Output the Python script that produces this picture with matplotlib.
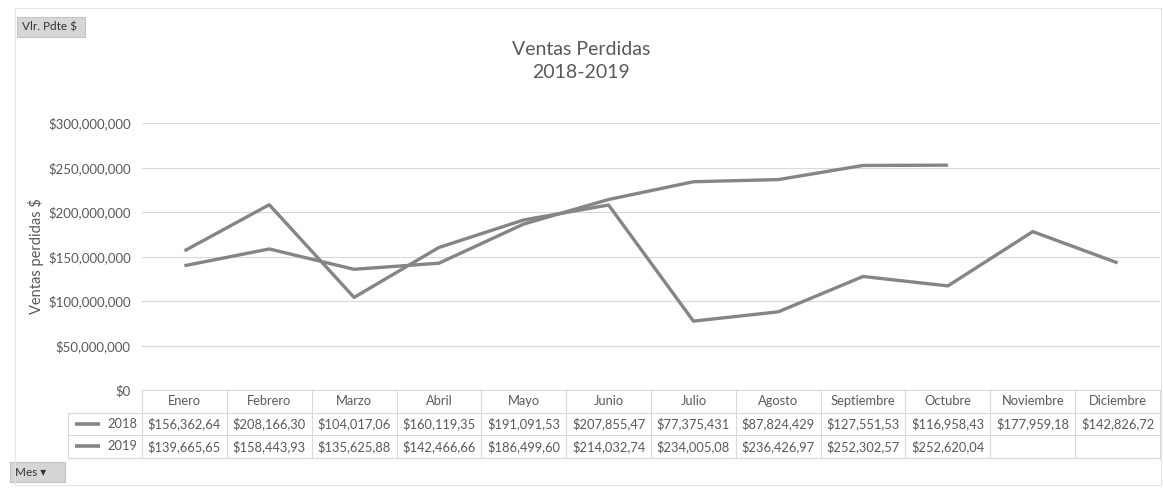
import matplotlib.pyplot as plt
from matplotlib.patches import Rectangle
from matplotlib.ticker import FuncFormatter
import matplotlib.transforms as mtransforms

plt.rcParams['font.family'] = ['Lato', 'DejaVu Sans']

meses = ["Enero", "Febrero", "Marzo", "Abril", "Mayo", "Junio", "Julio",
         "Agosto", "Septiembre", "Octubre", "Noviembre", "Diciembre"]
ventas_2018 = [156362640, 208166300, 104017060, 160119350, 191091530, 207855470,
               77375431, 87824429, 127551530, 116958430, 177959180, 142826720]
ventas_2019 = [139665650, 158443930, 135625880, 142466660, 186499600, 214032740,
               234005080, 236426970, 252302570, 252620040]
series = [("2018", ventas_2018), ("2019", ventas_2019)]

gris_linea = "#858585"
gris_texto = "#595959"
gris_borde = "#d9d9d9"

W, H = 1163, 491
fig = plt.figure(figsize=(W / 100, H / 100), dpi=100)

# area de trazado en pixeles
x0, x1 = 142, 1160
y_top, y_cero = 123, 390
ax = fig.add_axes([x0 / W, 1 - y_cero / H, (x1 - x0) / W, (y_cero - y_top) / H])

x = list(range(len(meses)))
for nombre, vals in series:
    ax.plot(x[:len(vals)], vals, color=gris_linea, lw=2.4, solid_capstyle="butt")

ax.set_xlim(-0.5, len(meses) - 0.5)
ax.set_ylim(0, 300e6)
ax.set_yticks(range(0, 300000001, 50000000))
ax.yaxis.set_major_formatter(FuncFormatter(lambda v, p: "${:,.0f}".format(v)))
ax.tick_params(axis="y", length=0, labelsize=9.5, labelcolor=gris_texto, pad=8)
ax.set_xticks([])
ax.grid(axis="y", color=gris_borde, lw=0.8)
ax.set_axisbelow(True)
for s in ax.spines.values():
    s.set_visible(False)
ax.set_ylabel("Ventas perdidas $", fontsize=10.5, color=gris_texto, labelpad=3)

# tabla de datos bajo el eje
fila_h = 22.5 / (y_cero - y_top)
col_lbl = -0.5 - (x0 - 68) / ((x1 - x0) / len(meses))
trans = mtransforms.blended_transform_factory(ax.transData, ax.transAxes)

def linea(xa, xb, ya, yb):
    ax.plot([xa, xb], [ya, yb], color=gris_borde, lw=0.8, transform=trans, clip_on=False)

n = len(meses)
linea(-0.5, n - 0.5, 0, 0)
for k in range(1, 4):
    linea(col_lbl, n - 0.5, -k * fila_h, -k * fila_h)
for c in range(n + 1):
    linea(c - 0.5, c - 0.5, 0, -3 * fila_h)
linea(col_lbl, col_lbl, -fila_h, -3 * fila_h)

for c, m in enumerate(meses):
    ax.text(c, -0.5 * fila_h, m, transform=trans, ha="center", va="center",
            fontsize=9.3, color=gris_texto)

for r, (nombre, vals) in enumerate(series):
    yc = -(r + 1.5) * fila_h
    ax.text(-0.55, yc, nombre, transform=trans, ha="right", va="center",
            fontsize=9.3, color=gris_texto)
    ax.plot([col_lbl + 0.08, col_lbl + 0.38], [yc, yc], color=gris_linea, lw=2.6,
            transform=trans, clip_on=False, solid_capstyle="butt")
    for c, v in enumerate(vals):
        etiqueta = "${:,.0f}".format(v)[:11]
        ax.text(c, yc, etiqueta, transform=trans, ha="center", va="center",
                fontsize=9.3, color=gris_texto)

fig.text(0.5, 1 - 61 / H, "Ventas Perdidas\n2018-2019", ha="center", va="center",
         fontsize=14, color=gris_texto, linespacing=1.4)

# botones del grafico dinamico
for (bx, by, bw, bh, txt) in [(17, 17, 68, 20, "Vlr. Pdte $"), (10, 462, 55, 20, "Mes \u25be")]:
    fig.patches.append(Rectangle((bx / W, 1 - (by + bh) / H), bw / W, bh / H,
                                 transform=fig.transFigure, facecolor="#d6d6d6",
                                 edgecolor="#c4c4c4", lw=0.8))
    fig.text((bx + 5) / W, 1 - (by + bh / 2) / H, txt, ha="left", va="center",
             fontsize=8.5, color="#333333", family=['Lato', 'DejaVu Sans'])

# marco exterior
fig.patches.append(Rectangle((15 / W, 1 - 485 / H), 1146 / W, 477 / H,
                             transform=fig.transFigure, fill=False,
                             edgecolor="#e4e4e4", lw=0.8))

fig.savefig("out.png", dpi=100, facecolor="white")
